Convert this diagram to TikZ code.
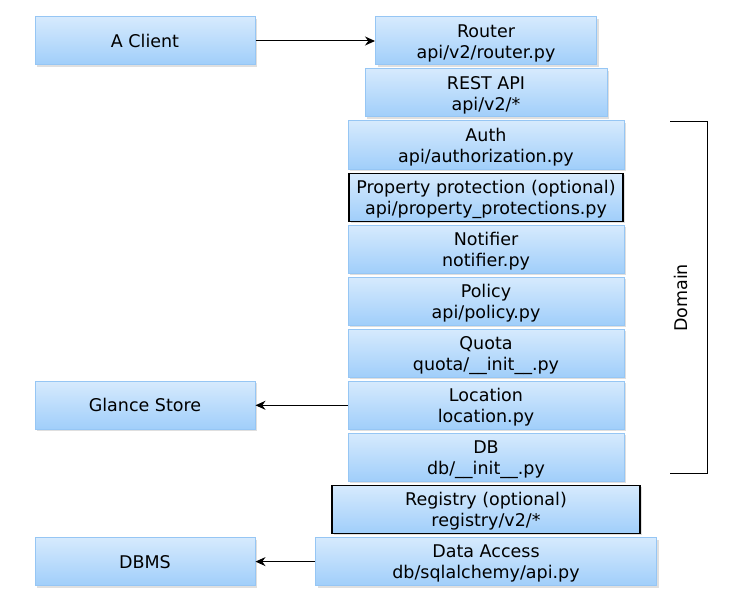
\documentclass[tikz,border=0pt]{standalone}
\usepackage{fontspec}
\setmainfont{DejaVu Sans}
\definecolor{boxtop}{RGB}{214,234,253}
\definecolor{boxbot}{RGB}{160,206,250}
\definecolor{boxedge}{RGB}{150,198,244}
\usetikzlibrary{arrows.meta,positioning,shadows}

\begin{document}
\begin{tikzpicture}[x=1pt, y=1pt,
  layer/.style={rectangle, draw=boxedge, line width=1pt, top color=boxtop, bottom color=boxbot,
    minimum height=48pt, inner xsep=2pt, inner ysep=1pt, align=center, font=\fontsize{17.5}{21}\selectfont,
    text height=39pt, text depth=4.5pt,
    drop shadow={shadow xshift=2pt, shadow yshift=-2pt, opacity=0.25}},
  optional/.style={layer, draw=black, line width=1.3pt},
  side/.style={layer, minimum width=220pt, text height=13pt, text depth=0pt},
  conn/.style={-{Stealth[length=10pt, width=9pt]}, line width=1pt, black},
  node distance=3pt,
]
\useasboundingbox (0,0) rectangle (736,-607);

% the layer stack
\node[layer, minimum width=221pt] (router) at (486,-41) {Router\\api/v2/router.py};
\node[layer, minimum width=242pt, below=of router] (rest) {REST API\\api/v2/*};
\node[layer, minimum width=276pt, below=of rest] (auth) {Auth\\api/authorization.py};
\node[optional, minimum width=274pt, below=of auth] (prop) {Property protection (optional)\\api/property\_protections.py};
\node[layer, minimum width=276pt, below=of prop] (notif) {Notifier\\notifier.py};
\node[layer, minimum width=276pt, below=of notif] (policy) {Policy\\api/policy.py};
\node[layer, minimum width=276pt, below=of policy] (quota) {Quota\\quota/\_\_init\_\_.py};
\node[layer, minimum width=276pt, below=of quota] (loc) {Location\\location.py};
\node[layer, minimum width=276pt, below=of loc] (db) {DB\\db/\_\_init\_\_.py};
\node[optional, minimum width=308pt, below=of db] (reg) {Registry (optional)\\registry/v2/*};
\node[layer, minimum width=341pt, below=of reg] (data) {Data Access\\db/sqlalchemy/api.py};

% outside parts
\node[side] (client) at (145,-41) {A Client};
\node[side] (store) at (client |- loc) {Glance Store};
\node[side] (dbms) at (client |- data) {DBMS};

\draw[conn] (client) -- (router);
\draw[conn] (loc) -- (store);
\draw[conn] (data) -- (dbms);

% domain bracket
\coordinate (domtop) at (670,-122);
\coordinate (dombot) at (670,-473);
\draw[line width=1pt] (domtop) -- ++(37,0) |- (dombot);
\node[rotate=90, font=\fontsize{17.5}{21}\selectfont] (domain) at (681,-298) {Domain};
\end{tikzpicture}
\end{document}
